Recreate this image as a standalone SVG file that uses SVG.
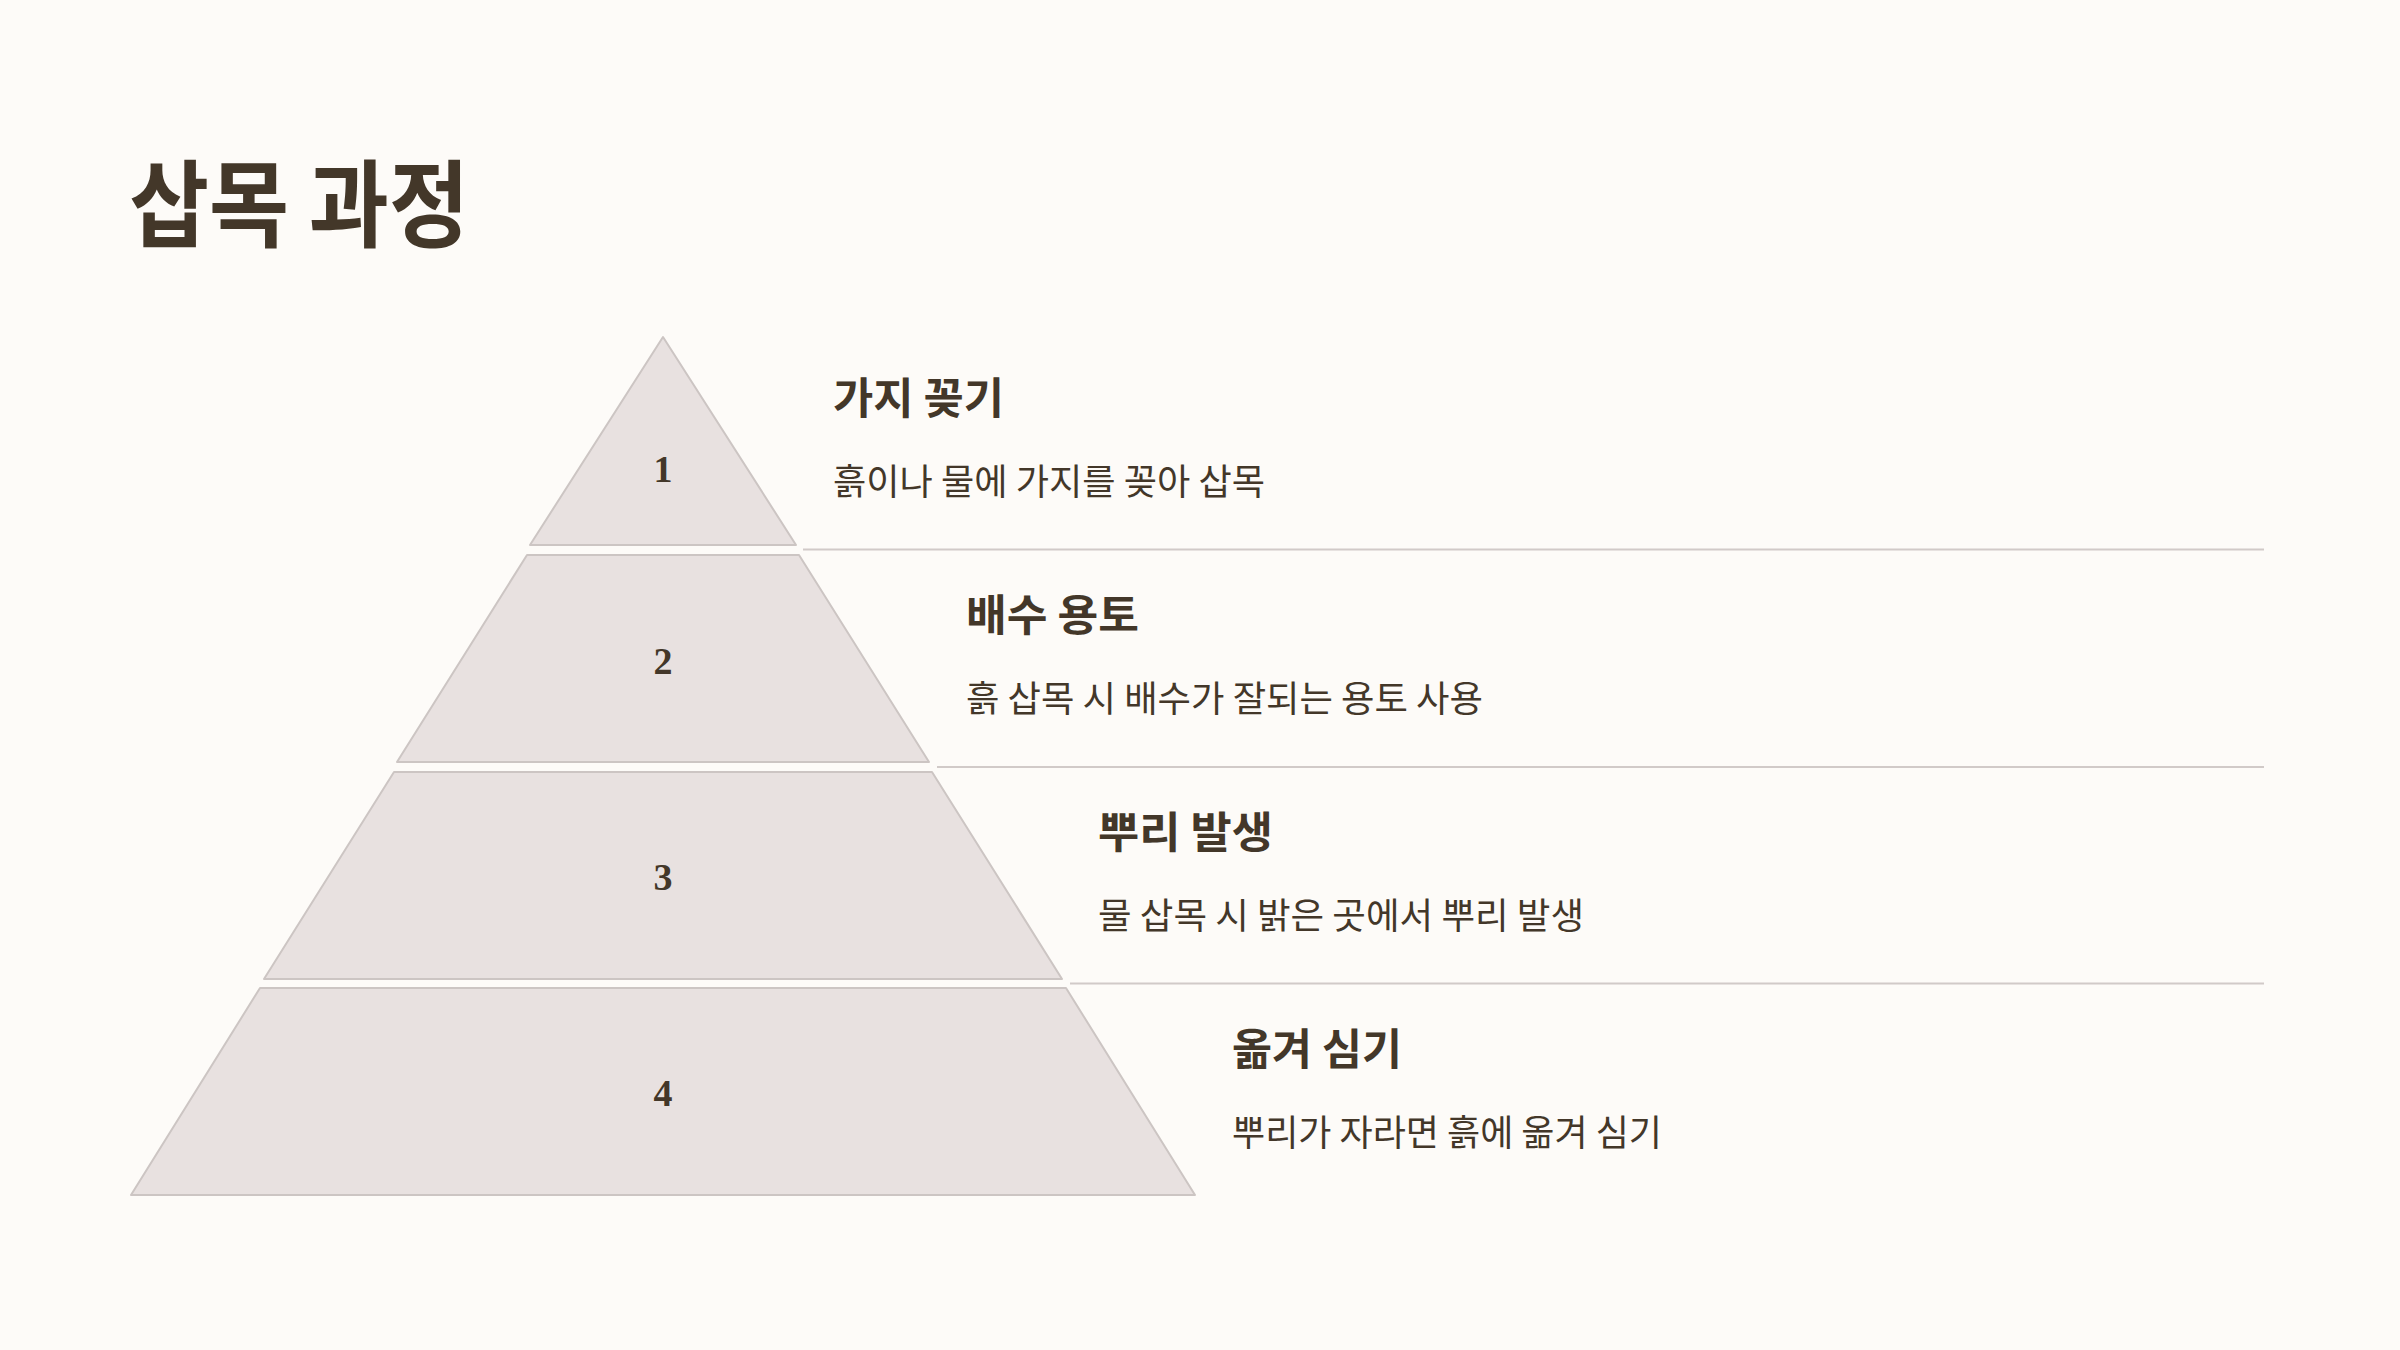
<svg xmlns="http://www.w3.org/2000/svg" width="2400" height="1350" viewBox="0 0 2400 1350">
<style>
.bg{fill:#FDFBF8}
.tier{fill:#E8E1E0;stroke:#CCC5C3;stroke-width:2;stroke-linejoin:round}
.num{font-family:"Liberation Serif","DejaVu Serif",serif;font-weight:700;font-size:38px;fill:#433729;text-anchor:middle}
.h{font-family:"Noto Sans CJK KR","Noto Sans",sans-serif;font-weight:700;font-size:43px;fill:#433729}
.d{font-family:"Noto Sans CJK KR","Noto Sans",sans-serif;font-weight:400;font-size:36px;fill:#433729}
.main{font-family:"Noto Sans CJK KR","Noto Sans",sans-serif;font-weight:700;font-size:95px;fill:#433729}
.sep{stroke:#D1CAC8;stroke-width:2;fill:none}
</style>
<rect class="bg" x="0" y="0" width="2400" height="1350"/>
<text class="main" x="129" y="240" textLength="340" lengthAdjust="spacingAndGlyphs">삽목 과정</text>
<g id="connectors">
<line class="sep" x1="803" y1="549.5" x2="2264" y2="549.5"/>
<line class="sep" x1="937" y1="767" x2="2264" y2="767"/>
<line class="sep" x1="1070" y1="983.5" x2="2264" y2="983.5"/>
</g>
<g id="tier1">
<polygon class="tier" points="663,337 796,545 530,545"/>
<text class="num" x="663" y="481.5">1</text>
<text class="h" x="833" y="414" textLength="171" lengthAdjust="spacingAndGlyphs">가지 꽂기</text>
<text class="d" x="833" y="494.5" textLength="432" lengthAdjust="spacingAndGlyphs">흙이나 물에 가지를 꽂아 삽목</text>
</g>
<g id="tier2">
<polygon class="tier" points="527,555 799,555 929,762 397,762"/>
<text class="num" x="663" y="673.5">2</text>
<text class="h" x="966" y="631" textLength="173" lengthAdjust="spacingAndGlyphs">배수 용토</text>
<text class="d" x="966" y="711.5" textLength="517" lengthAdjust="spacingAndGlyphs">흙 삽목 시 배수가 잘되는 용토 사용</text>
</g>
<g id="tier3">
<polygon class="tier" points="394,772 932,772 1062,979 264,979"/>
<text class="num" x="663" y="889.5">3</text>
<text class="h" x="1098" y="848" textLength="175" lengthAdjust="spacingAndGlyphs">뿌리 발생</text>
<text class="d" x="1098" y="928.5" textLength="486" lengthAdjust="spacingAndGlyphs">물 삽목 시 밝은 곳에서 뿌리 발생</text>
</g>
<g id="tier4">
<polygon class="tier" points="260,988 1066,988 1195,1195 131,1195"/>
<text class="num" x="663" y="1105.5">4</text>
<text class="h" x="1232" y="1065" textLength="170" lengthAdjust="spacingAndGlyphs">옮겨 심기</text>
<text class="d" x="1232" y="1145.5" textLength="430" lengthAdjust="spacingAndGlyphs">뿌리가 자라면 흙에 옮겨 심기</text>
</g>
</svg>
